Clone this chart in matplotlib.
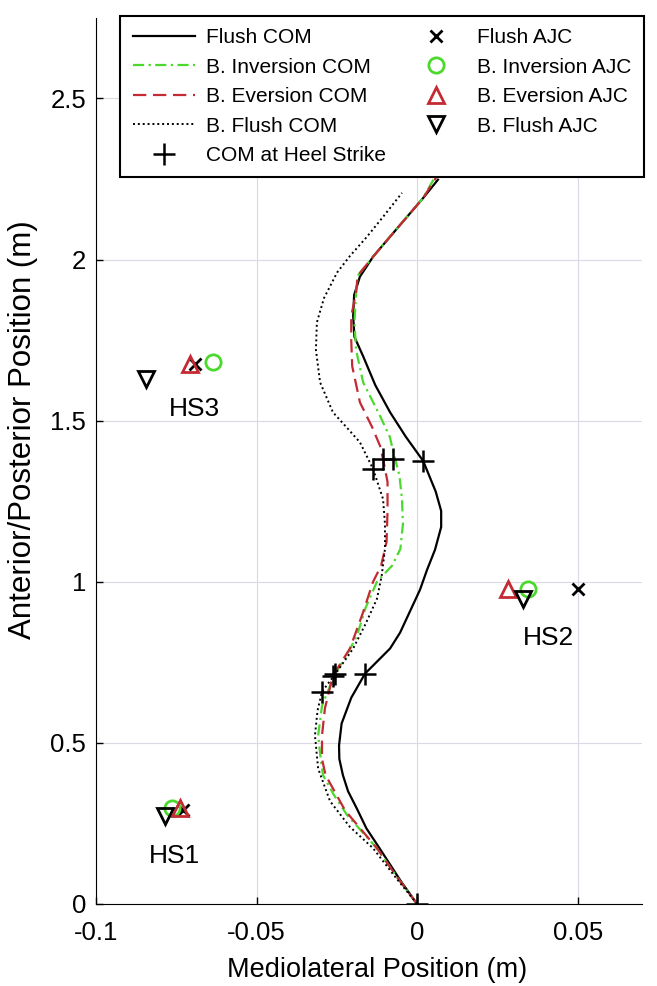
import numpy as np
import matplotlib.pyplot as plt

plt.rcParams['font.family'] = ['Liberation Sans', 'DejaVu Sans']

# COM paths (mediolateral x, anterior/posterior y)
flush_x = [0, -0.005, -0.0115, -0.0158, -0.0187, -0.0215, -0.0231, -0.0242, -0.0243,
           -0.0235, -0.0205, -0.0162, -0.0084, -0.0053, 0.0009, 0.0031, 0.0056,
           0.0075, 0.0075, 0.0058, 0.0019, -0.0035, -0.0084, -0.013, -0.0168,
           -0.0195, -0.0199, -0.0196, -0.0178, -0.0137, -0.0085, -0.0031, 0.0018, 0.0065]
flush_y = [0, 0.07, 0.17, 0.235, 0.295, 0.35, 0.40, 0.45, 0.492,
           0.56, 0.64, 0.715, 0.793, 0.842, 0.975, 1.037, 1.10,
           1.17, 1.22, 1.28, 1.375, 1.45, 1.526, 1.61, 1.70,
           1.76, 1.824, 1.89, 1.947, 2.009, 2.07, 2.133, 2.19, 2.248]

inv_x = [0, -0.006, -0.0125, -0.0218, -0.026, -0.0293, -0.030, -0.0308, -0.0296,
         -0.0255, -0.022, -0.0187, -0.016, -0.0125, -0.0078, -0.0052, -0.0044,
         -0.0047, -0.0055, -0.0072, -0.0085, -0.0115, -0.0168, -0.019, -0.0195,
         -0.019, -0.0185, -0.0137, -0.0085, -0.0031, 0.0018, 0.0056]
inv_y = [0, 0.08, 0.173, 0.276, 0.34, 0.40, 0.45, 0.523, 0.616,
         0.715, 0.77, 0.833, 0.92, 1.0, 1.05, 1.102, 1.18,
         1.257, 1.33, 1.395, 1.45, 1.514, 1.619, 1.72, 1.805,
         1.898, 1.95, 2.009, 2.07, 2.133, 2.19, 2.257]

ev_x = [0, -0.006, -0.0125, -0.0224, -0.0285, -0.0296, -0.0296, -0.0287, -0.0262,
        -0.0209, -0.017, -0.0137, -0.0112, -0.0095, -0.0092, -0.0092, -0.0106,
        -0.0115, -0.014, -0.0178, -0.0202, -0.0205, -0.0205, -0.019, -0.0185,
        -0.0137, -0.0085, -0.0031, 0.0018, 0.0059]
ev_y = [0, 0.08, 0.173, 0.29, 0.40, 0.45, 0.523, 0.607, 0.709,
        0.793, 0.9, 1.0, 1.05, 1.124, 1.22, 1.31, 1.381,
        1.421, 1.48, 1.557, 1.669, 1.75, 1.824, 1.898, 1.95,
        2.009, 2.07, 2.133, 2.19, 2.254]

bf_x = [0, -0.0065, -0.0137, -0.021, -0.0271, -0.0308, -0.0318, -0.031, -0.0296,
        -0.025, -0.0199, -0.016, -0.0125, -0.011, -0.0100, -0.0100, -0.0106,
        -0.0137, -0.0178, -0.022, -0.0262, -0.0302, -0.0315, -0.0312, -0.029,
        -0.0249, -0.021, -0.0156, -0.010, -0.0047]
bf_y = [0, 0.08, 0.173, 0.24, 0.319, 0.42, 0.523, 0.6, 0.659,
        0.72, 0.793, 0.87, 0.947, 1.02, 1.102, 1.18, 1.257,
        1.35, 1.433, 1.48, 1.526, 1.619, 1.72, 1.805, 1.88,
        1.96, 2.01, 2.071, 2.14, 2.207]

# COM at heel strike
hs_x = [0, -0.0162, 0.0019, -0.0255, -0.0075, -0.0262, -0.0106, -0.0296, -0.0137]
hs_y = [0, 0.715, 1.375, 0.715, 1.381, 0.709, 1.381, 0.659, 1.35]

# ankle joint centres (HS1, HS2, HS3)
flush_ajc_x = [-0.0729, 0.0502, -0.0692]
flush_ajc_y = [0.291, 0.978, 1.675]
inv_ajc_x = [-0.0763, 0.0346, -0.0636]
inv_ajc_y = [0.297, 0.978, 1.681]
ev_ajc_x = [-0.0738, 0.0283, -0.0707]
ev_ajc_y = [0.297, 0.978, 1.675]
bf_ajc_x = [-0.0785, 0.033, -0.0844]
bf_ajc_y = [0.272, 0.947, 1.628]

hs_labels = ['HS1', 'HS2', 'HS3']
hs_label_x = [-0.0754, 0.0408, -0.0692]
hs_label_y = [0.149, 0.824, 1.536]

green = '#4cd92e'
red = '#c42a33'

fig = plt.figure(figsize=(6.57, 9.86), dpi=100)
ax = fig.add_axes([0.146, 0.0832, 0.831, 0.8986])

ax.plot(flush_x, flush_y, color='black', lw=1.6, label='Flush COM')
ax.plot(inv_x, inv_y, color=green, lw=1.6, ls=(0, (5, 2, 1, 2)), label='B. Inversion COM')
ax.plot(ev_x, ev_y, color=red, lw=1.6, ls=(0, (6, 3)), label='B. Eversion COM')
ax.plot(bf_x, bf_y, color='black', lw=1.4, ls=(0, (1, 1.5)), label='B. Flush COM')
ax.plot(hs_x, hs_y, ls='none', marker='+', ms=16, mew=1.8, color='black',
        label='COM at Heel Strike')

ax.plot(flush_ajc_x, flush_ajc_y, ls='none', marker='x', ms=9, mew=2, color='black',
        label='Flush AJC')
ax.plot(inv_ajc_x, inv_ajc_y, ls='none', marker='o', ms=11, mew=2, mfc='none',
        mec=green, label='B. Inversion AJC')
ax.plot(ev_ajc_x, ev_ajc_y, ls='none', marker='^', ms=12, mew=2, mfc='none',
        mec=red, label='B. Eversion AJC')
ax.plot(bf_ajc_x, bf_ajc_y, ls='none', marker='v', ms=12, mew=2, mfc='none',
        mec='black', label='B. Flush AJC')

for t, x, y in zip(hs_labels, hs_label_x, hs_label_y):
    ax.text(x, y, t, ha='center', va='center', fontsize=19)

ax.set_xlim(-0.1, 0.07)
ax.set_ylim(0, 2.75)
ax.set_xticks([-0.1, -0.05, 0, 0.05])
ax.set_xticklabels(['-0.1', '-0.05', '0', '0.05'])
ax.set_yticks([0, 0.5, 1, 1.5, 2, 2.5])
ax.set_yticklabels(['0', '0.5', '1', '1.5', '2', '2.5'])
ax.tick_params(direction='in', length=5, width=1, labelsize=18.5)
ax.tick_params(axis='x', pad=12)
ax.tick_params(axis='y', pad=7)
ax.grid(True, color='#dcd8e6', lw=0.8)
ax.spines['top'].set_visible(False)
ax.spines['right'].set_visible(False)
ax.set_xlabel('Mediolateral Position (m)', fontsize=19.5)
ax.xaxis.set_label_coords(0.515, -0.060)
ax.set_ylabel('Anterior/Posterior Position (m)', fontsize=22.5, va='center')
ax.yaxis.set_label_coords(-0.134, 0.535)

leg = ax.legend(ncol=2, loc='upper left', bbox_to_anchor=(0.183, 0.984),
                bbox_transform=fig.transFigure, fontsize=15, frameon=True,
                fancybox=False, framealpha=1, edgecolor='black',
                handlelength=3, handletextpad=0.5, columnspacing=0.9,
                labelspacing=0.5, borderpad=0.6, borderaxespad=0)
leg.get_frame().set_linewidth(1.5)

fig.savefig('out.png', dpi=100)
